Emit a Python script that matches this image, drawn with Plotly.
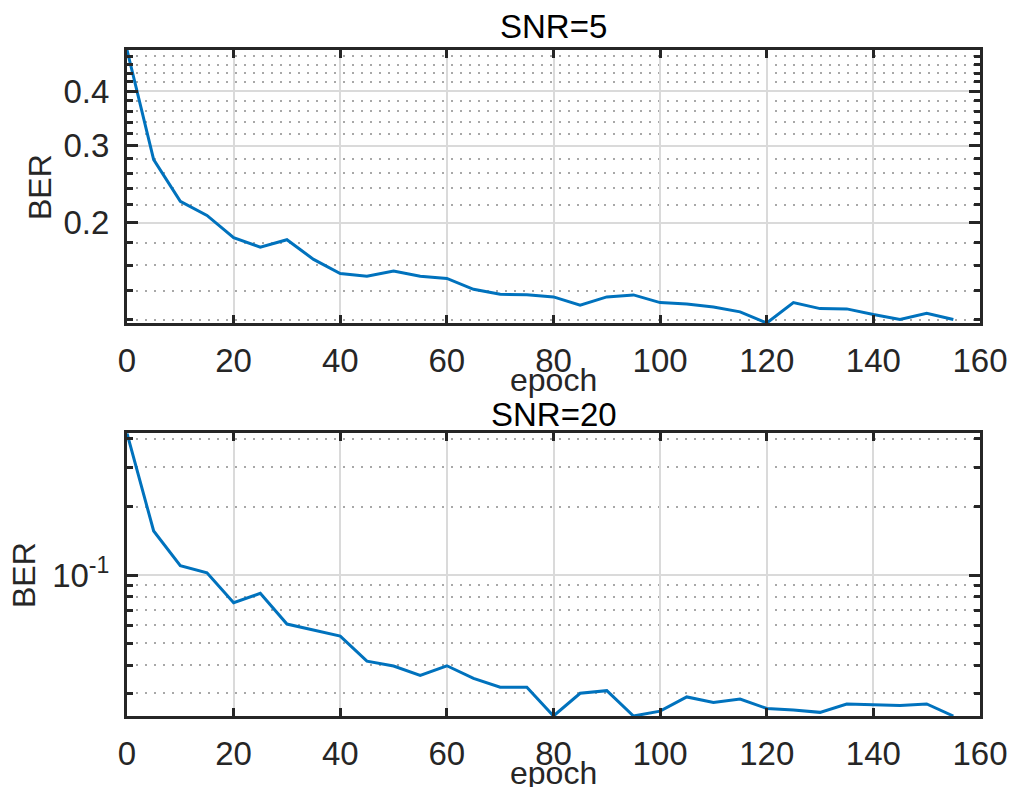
import math
import plotly.graph_objects as go

# ---------------- data ----------------
epochs = list(range(0, 160, 5))
ber_snr5 = [0.4966, 0.279, 0.224, 0.208, 0.185, 0.176, 0.183, 0.165, 0.1532, 0.151,
            0.1553, 0.151, 0.1493, 0.141, 0.1374, 0.1370, 0.1355, 0.1297, 0.1355, 0.1369,
            0.1315, 0.1305, 0.1285, 0.1252, 0.1181, 0.1315, 0.1274, 0.1272, 0.1235, 0.1203,
            0.1243, 0.1203]
ber_snr20 = [0.4236, 0.1566, 0.1100, 0.1024, 0.0754, 0.0830, 0.0607, 0.0571, 0.0537, 0.0416,
             0.0396, 0.0360, 0.0397, 0.0349, 0.0319, 0.0319, 0.0238, 0.0300, 0.0308, 0.0238,
             0.0250, 0.0289, 0.0273, 0.0283, 0.0257, 0.0253, 0.0247, 0.0269, 0.0266, 0.0265,
             0.0269, 0.0238]

titles = ["SNR=5", "SNR=20"]
x_label = "epoch"
y_label = "BER"
x_ticks = [0, 20, 40, 60, 80, 100, 120, 140, 160]
top_major = [0.2, 0.3, 0.4]
top_major_text = ["0.2", "0.3", "0.4"]
top_minor = [0.12, 0.14, 0.16, 0.18, 0.22, 0.24, 0.26, 0.28, 0.32, 0.34, 0.36, 0.38,
             0.42, 0.44, 0.46, 0.48]
bot_major = [0.1]
bot_major_text = ["10<sup>-1</sup>"]
bot_minor = [0.03, 0.04, 0.05, 0.06, 0.07, 0.08, 0.09, 0.2, 0.3, 0.4]

# ---------------- style ----------------
FONT = "Liberation Sans, Arial, Helvetica, sans-serif"
AX = "#262626"
LINE = "#0072BD"
GRID = "#dadada"
MGRID = "#a8a8a8"

fig = go.Figure()
fig.add_trace(go.Scatter(x=epochs, y=ber_snr5, mode="lines", xaxis="x", yaxis="y",
                         line=dict(color=LINE, width=3), showlegend=False))
fig.add_trace(go.Scatter(x=epochs, y=ber_snr20, mode="lines", xaxis="x2", yaxis="y2",
                         line=dict(color=LINE, width=3), showlegend=False))

def xaxis_cfg(anchor, domain_x):
    return dict(
        domain=domain_x, anchor=anchor, range=[0, 160], automargin=False,
        tickvals=x_ticks, ticks="inside", ticklen=8, tickwidth=3, tickcolor=AX,
        showline=True, linecolor=AX, linewidth=3, mirror="ticks",
        showgrid=True, gridcolor=GRID, gridwidth=2, zeroline=False,
        tickfont=dict(family=FONT, size=33, color=AX),
        ticklabelstandoff=6,
    )

def yaxis_cfg(anchor, domain_y, data, major, major_text, minor):
    return dict(
        domain=domain_y, anchor=anchor, type="log", automargin=False,
        range=[math.log10(min(data)), math.log10(max(data))],
        tickvals=major, ticktext=major_text,
        ticks="inside", ticklen=11, tickwidth=3, tickcolor=AX,
        showline=True, linecolor=AX, linewidth=3, mirror="ticks",
        showgrid=True, gridcolor=GRID, gridwidth=2, zeroline=False,
        tickfont=dict(family=FONT, size=33, color=AX),
        ticklabelstandoff=8,
        minor=dict(tickvals=minor, ticks="inside", ticklen=6, tickwidth=3, tickcolor=AX,
                   showgrid=True, gridcolor=MGRID, gridwidth=1.5, griddash="2px,7px"),
    )

dx = [127 / 1009, 980 / 1009]
dy_top = [1 - 323 / 787, 1 - 50 / 787]
dy_bot = [1 - 716 / 787, 1 - 433.3 / 787]
xc = (dx[0] + dx[1]) / 2

def ann(text, x, y_px, size, color=AX, angle=0):
    return dict(text=text, x=x, y=1 - y_px / 787, xref="paper", yref="paper",
                showarrow=False, xanchor="center", yanchor="middle", textangle=angle,
                font=dict(family=FONT, size=size, color=color))

fig.update_layout(
    width=1009, height=787,
    margin=dict(l=0, r=0, t=0, b=0),
    paper_bgcolor="white", plot_bgcolor="white",
    xaxis=xaxis_cfg("y", dx),
    yaxis=yaxis_cfg("x", dy_top, ber_snr5, top_major, top_major_text, top_minor),
    xaxis2=xaxis_cfg("y2", dx),
    yaxis2=yaxis_cfg("x2", dy_bot, ber_snr20, bot_major, bot_major_text, bot_minor),
    annotations=[
        ann(titles[0], xc, 26, 33, "#000000"),
        ann(titles[1], xc, 414, 33, "#000000"),
        ann(x_label, xc, 380, 32),
        ann(x_label, xc, 773, 32),
        dict(ann(y_label, 40 / 1009, 187, 32, AX, -90)),
        dict(ann(y_label, 24 / 1009, 575, 32, AX, -90)),
    ],
)

fig.write_html("out.html")
